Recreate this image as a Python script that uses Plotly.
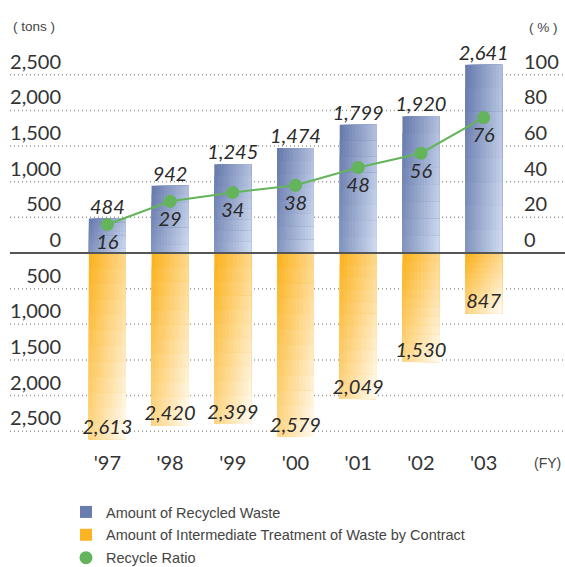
import plotly.graph_objects as go

years = ["'97", "'98", "'99", "'00", "'01", "'02", "'03"]
recycled = [484, 942, 1245, 1474, 1799, 1920, 2641]
contract = [2613, 2420, 2399, 2579, 2049, 1530, 847]
ratio = [16, 29, 34, 38, 48, 56, 76]

left_ticks = [-2500, -2000, -1500, -1000, -500, 0, 500, 1000, 1500, 2000, 2500]
right_ticks = [0, 20, 40, 60, 80, 100]

W, H = 565, 567
ML, MR, MT, MB = 76, 50, 57, 118
PW = W - ML - MR
PH = H - MT - MB
YR = [-2750, 2750]
Y2R = [YR[0] / 25, YR[1] / 25]

BW = 0.59
TICK_FONT = dict(family="Lato", size=20, color="#333333")
LBL_FONT = dict(family="Lato", size=20, color="#2a2a2a", style="italic")


def mix(c1, c2, t):
    return "rgb(%d,%d,%d)" % tuple(round(a + (b - a) * t) for a, b in zip(c1, c2))


fig = go.Figure()

# blue bars: diagonal gradient (mostly horizontal)
NBC, NBR = 12, 8
for i in range(NBR):
    for j in range(NBC):
        yv = [v * (1 - i / NBR) for v in recycled]
        t = 0.72 * j / (NBC - 1) + 0.28 * i / (NBR - 1)
        fig.add_trace(go.Bar(
            x=years, y=yv, width=BW * (1 - j / NBC), offset=-BW / 2 + BW * j / NBC,
            marker=dict(color=mix((104, 124, 174), (204, 216, 238), t), line=dict(width=0)),
            name="Amount of Recycled Waste", showlegend=(i == 0 and j == 0),
            legendgroup="a", legendrank=1, hoverinfo="skip"))

# orange bars: diagonal gradient
NC, NR = 10, 12
for i in range(NR):
    for j in range(NC):
        base = [-c * i / NR for c in contract]
        yv = [-c * (1 - i / NR) for c in contract]
        t = 0.5 * j / (NC - 1) + 0.5 * i / (NR - 1)
        fig.add_trace(go.Bar(
            x=years, y=yv, base=base, width=BW * (1 - j / NC), offset=-BW / 2 + BW * j / NC,
            marker=dict(color=mix((252, 180, 36), (255, 249, 236), t), line=dict(width=0)),
            name="Amount of Intermediate Treatment of Waste by Contract",
            showlegend=(i == 0 and j == 0), legendgroup="b", legendrank=2, hoverinfo="skip"))

# value labels
fig.add_trace(go.Scatter(x=years, y=recycled, mode="text",
                         text=[f"{v:,}" for v in recycled], textposition="top center",
                         textfont=LBL_FONT, showlegend=False, cliponaxis=False, hoverinfo="skip"))
fig.add_trace(go.Scatter(x=years, y=[-c for c in contract], mode="text",
                         text=[f"{v:,}" for v in contract], textposition="top center",
                         textfont=LBL_FONT, showlegend=False, cliponaxis=False, hoverinfo="skip"))

# ratio line
GREEN = "#63b45a"
fig.add_trace(go.Scatter(x=years, y=ratio, yaxis="y2", mode="lines",
                         line=dict(color=GREEN, width=2), showlegend=False, hoverinfo="skip"))
fig.add_trace(go.Scatter(x=years, y=ratio, yaxis="y2", mode="markers",
                         marker=dict(color=GREEN, size=13), name="Recycle Ratio",
                         legendgroup="c", legendrank=3, hoverinfo="skip"))
fig.add_trace(go.Scatter(x=years, y=ratio, yaxis="y2", mode="markers+text",
                         marker=dict(color="rgba(0,0,0,0)", size=14),
                         text=[str(r) for r in ratio], textposition="bottom center",
                         textfont=LBL_FONT, showlegend=False, cliponaxis=False, hoverinfo="skip"))

x0 = (10 - ML) / PW
x1 = (563 - ML) / PW
shapes = []
for v in left_ticks:
    if v == 0:
        continue
    shapes.append(dict(type="line", xref="paper", yref="y", x0=x0, x1=x1, y0=v, y1=v,
                       line=dict(color="#9a9a9a", width=1.5, dash="1px,3px"), layer="below"))
shapes.append(dict(type="line", xref="paper", yref="y", x0=x0, x1=(565 - ML) / PW, y0=0, y1=0,
                   line=dict(color="#555555", width=2), layer="above"))

fig.update_layout(
    width=W, height=H,
    margin=dict(l=ML, r=MR, t=MT, b=MB, pad=0, autoexpand=False),
    paper_bgcolor="white", plot_bgcolor="white",
    barmode="overlay",
    shapes=shapes,
    xaxis=dict(type="category", range=[-0.5, 6.5], showgrid=False, zeroline=False,
               showline=False, ticks="", tickfont=TICK_FONT, ticklabelstandoff=0,
               fixedrange=True),
    yaxis=dict(range=YR, tickvals=left_ticks, ticktext=[f"{abs(v):,}" for v in left_ticks],
               showgrid=False, zeroline=False, showline=False, ticks="",
               tickfont=TICK_FONT, ticklabelshift=-13, ticklabelstandoff=14, fixedrange=True),
    yaxis2=dict(range=Y2R, overlaying="y", side="right", tickvals=right_ticks,
                showgrid=False, zeroline=False, showline=False, ticks="",
                tickfont=TICK_FONT, ticklabelshift=-13, ticklabelstandoff=8, fixedrange=True),
    legend=dict(x=(66 - ML) / PW, xanchor="left", y=-(496 - (MT + PH)) / PH, yanchor="top",
                orientation="v", traceorder="grouped", tracegroupgap=1,
                font=dict(family="Liberation Sans", size=14.5, color="#444444"),
                bgcolor="rgba(0,0,0,0)", itemclick=False, itemdoubleclick=False),
    annotations=[
        dict(text="( tons )", xref="paper", yref="paper", x=(11 - ML) / PW, y=1 + (MT - 26) / PH,
             xanchor="left", yanchor="middle", showarrow=False,
             font=dict(family="Liberation Sans", size=13.5, color="#444444")),
        dict(text="( % )", xref="paper", yref="paper", x=(527 - ML) / PW, y=1 + (MT - 27) / PH,
             xanchor="left", yanchor="middle", showarrow=False,
             font=dict(family="Liberation Sans", size=13.5, color="#444444")),
        dict(text="(FY)", xref="paper", yref="paper", x=(563 - ML) / PW, y=-(463 - (MT + PH)) / PH,
             xanchor="right", yanchor="middle", showarrow=False,
             font=dict(family="Liberation Sans", size=14, color="#444444")),
    ],
)

fig.write_html("out.html")
